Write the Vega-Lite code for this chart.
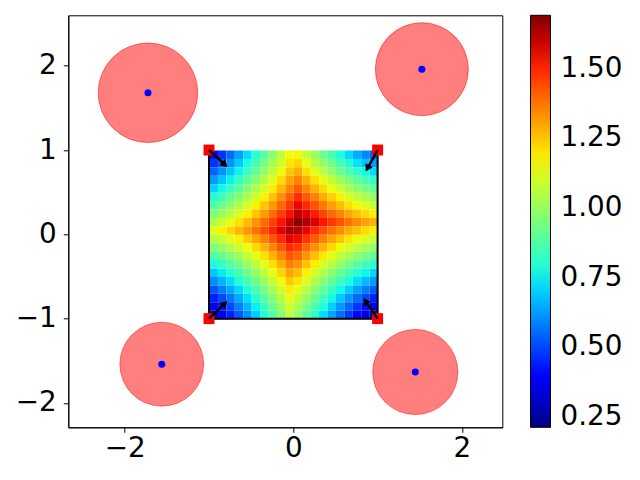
{
"$schema":"https://vega.github.io/schema/vega-lite/v6.json",
"autosize":{"type":"none"},
"width":434,"height":412,
"padding":{"left":68.3,"top":15.3,"right":137.7,"bottom":52.7},
"datasets":{
"grid":[
{"x":-0.95,"y":0.95,"v":0.397},{"x":-0.85,"y":0.95,"v":0.472},{"x":-0.75,"y":0.95,"v":0.551},{"x":-0.65,"y":0.95,"v":0.632},{"x":-0.55,"y":0.95,"v":0.716},{"x":-0.45,"y":0.95,"v":0.802},{"x":-0.35,"y":0.95,"v":0.889},{"x":-0.25,"y":0.95,"v":0.978},{"x":-0.15,"y":0.95,"v":1.069},{"x":-0.05,"y":0.95,"v":1.160},{"x":0.05,"y":0.95,"v":1.165},{"x":0.15,"y":0.95,"v":1.084},{"x":0.25,"y":0.95,"v":1.004},{"x":0.35,"y":0.95,"v":0.927},{"x":0.45,"y":0.95,"v":0.852},{"x":0.55,"y":0.95,"v":0.781},{"x":0.65,"y":0.95,"v":0.714},{"x":0.75,"y":0.95,"v":0.650},{"x":0.85,"y":0.95,"v":0.592},{"x":0.95,"y":0.95,"v":0.539},
{"x":-0.95,"y":0.85,"v":0.468},{"x":-0.85,"y":0.85,"v":0.539},{"x":-0.75,"y":0.85,"v":0.613},{"x":-0.65,"y":0.85,"v":0.691},{"x":-0.55,"y":0.85,"v":0.771},{"x":-0.45,"y":0.85,"v":0.854},{"x":-0.35,"y":0.85,"v":0.939},{"x":-0.25,"y":0.85,"v":1.025},{"x":-0.15,"y":0.85,"v":1.113},{"x":-0.05,"y":0.85,"v":1.202},{"x":0.05,"y":0.85,"v":1.223},{"x":0.15,"y":0.85,"v":1.145},{"x":0.25,"y":0.85,"v":1.068},{"x":0.35,"y":0.85,"v":0.994},{"x":0.45,"y":0.85,"v":0.923},{"x":0.55,"y":0.85,"v":0.855},{"x":0.65,"y":0.85,"v":0.791},{"x":0.75,"y":0.85,"v":0.731},{"x":0.85,"y":0.85,"v":0.676},{"x":0.95,"y":0.85,"v":0.627},
{"x":-0.95,"y":0.75,"v":0.543},{"x":-0.85,"y":0.75,"v":0.610},{"x":-0.75,"y":0.75,"v":0.680},{"x":-0.65,"y":0.75,"v":0.754},{"x":-0.55,"y":0.75,"v":0.831},{"x":-0.45,"y":0.75,"v":0.911},{"x":-0.35,"y":0.75,"v":0.993},{"x":-0.25,"y":0.75,"v":1.076},{"x":-0.15,"y":0.75,"v":1.162},{"x":-0.05,"y":0.75,"v":1.249},{"x":0.05,"y":0.75,"v":1.285},{"x":0.15,"y":0.75,"v":1.209},{"x":0.25,"y":0.75,"v":1.135},{"x":0.35,"y":0.75,"v":1.064},{"x":0.45,"y":0.75,"v":0.996},{"x":0.55,"y":0.75,"v":0.931},{"x":0.65,"y":0.75,"v":0.870},{"x":0.75,"y":0.75,"v":0.814},{"x":0.85,"y":0.75,"v":0.763},{"x":0.95,"y":0.75,"v":0.717},
{"x":-0.95,"y":0.65,"v":0.622},{"x":-0.85,"y":0.65,"v":0.684},{"x":-0.75,"y":0.65,"v":0.751},{"x":-0.65,"y":0.65,"v":0.821},{"x":-0.55,"y":0.65,"v":0.895},{"x":-0.45,"y":0.65,"v":0.972},{"x":-0.35,"y":0.65,"v":1.051},{"x":-0.25,"y":0.65,"v":1.132},{"x":-0.15,"y":0.65,"v":1.215},{"x":-0.05,"y":0.65,"v":1.299},{"x":0.05,"y":0.65,"v":1.350},{"x":0.15,"y":0.65,"v":1.277},{"x":0.25,"y":0.65,"v":1.205},{"x":0.35,"y":0.65,"v":1.137},{"x":0.45,"y":0.65,"v":1.072},{"x":0.55,"y":0.65,"v":1.010},{"x":0.65,"y":0.65,"v":0.953},{"x":0.75,"y":0.65,"v":0.899},{"x":0.85,"y":0.65,"v":0.851},{"x":0.95,"y":0.65,"v":0.808},
{"x":-0.95,"y":0.55,"v":0.703},{"x":-0.85,"y":0.55,"v":0.762},{"x":-0.75,"y":0.55,"v":0.825},{"x":-0.65,"y":0.55,"v":0.892},{"x":-0.55,"y":0.55,"v":0.963},{"x":-0.45,"y":0.55,"v":1.036},{"x":-0.35,"y":0.55,"v":1.112},{"x":-0.25,"y":0.55,"v":1.191},{"x":-0.15,"y":0.55,"v":1.271},{"x":-0.05,"y":0.55,"v":1.353},{"x":0.05,"y":0.55,"v":1.418},{"x":0.15,"y":0.55,"v":1.347},{"x":0.25,"y":0.55,"v":1.278},{"x":0.35,"y":0.55,"v":1.213},{"x":0.45,"y":0.55,"v":1.150},{"x":0.55,"y":0.55,"v":1.092},{"x":0.65,"y":0.55,"v":1.037},{"x":0.75,"y":0.55,"v":0.986},{"x":0.85,"y":0.55,"v":0.940},{"x":0.95,"y":0.55,"v":0.900},
{"x":-0.95,"y":0.45,"v":0.786},{"x":-0.85,"y":0.45,"v":0.842},{"x":-0.75,"y":0.45,"v":0.902},{"x":-0.65,"y":0.45,"v":0.966},{"x":-0.55,"y":0.45,"v":1.034},{"x":-0.45,"y":0.45,"v":1.104},{"x":-0.35,"y":0.45,"v":1.177},{"x":-0.25,"y":0.45,"v":1.253},{"x":-0.15,"y":0.45,"v":1.331},{"x":-0.05,"y":0.45,"v":1.411},{"x":0.05,"y":0.45,"v":1.488},{"x":0.15,"y":0.45,"v":1.420},{"x":0.25,"y":0.45,"v":1.354},{"x":0.35,"y":0.45,"v":1.291},{"x":0.45,"y":0.45,"v":1.231},{"x":0.55,"y":0.45,"v":1.175},{"x":0.65,"y":0.45,"v":1.122},{"x":0.75,"y":0.45,"v":1.074},{"x":0.85,"y":0.45,"v":1.031},{"x":0.95,"y":0.45,"v":0.993},
{"x":-0.95,"y":0.35,"v":0.872},{"x":-0.85,"y":0.35,"v":0.925},{"x":-0.75,"y":0.35,"v":0.982},{"x":-0.65,"y":0.35,"v":1.043},{"x":-0.55,"y":0.35,"v":1.107},{"x":-0.45,"y":0.35,"v":1.175},{"x":-0.35,"y":0.35,"v":1.246},{"x":-0.25,"y":0.35,"v":1.319},{"x":-0.15,"y":0.35,"v":1.394},{"x":-0.05,"y":0.35,"v":1.471},{"x":0.05,"y":0.35,"v":1.551},{"x":0.15,"y":0.35,"v":1.494},{"x":0.25,"y":0.35,"v":1.431},{"x":0.35,"y":0.35,"v":1.370},{"x":0.45,"y":0.35,"v":1.313},{"x":0.55,"y":0.35,"v":1.259},{"x":0.65,"y":0.35,"v":1.210},{"x":0.75,"y":0.35,"v":1.164},{"x":0.85,"y":0.35,"v":1.123},{"x":0.95,"y":0.35,"v":1.087},
{"x":-0.95,"y":0.25,"v":0.959},{"x":-0.85,"y":0.25,"v":1.009},{"x":-0.75,"y":0.25,"v":1.063},{"x":-0.65,"y":0.25,"v":1.122},{"x":-0.55,"y":0.25,"v":1.183},{"x":-0.45,"y":0.25,"v":1.248},{"x":-0.35,"y":0.25,"v":1.316},{"x":-0.25,"y":0.25,"v":1.387},{"x":-0.15,"y":0.25,"v":1.460},{"x":-0.05,"y":0.25,"v":1.535},{"x":0.05,"y":0.25,"v":1.612},{"x":0.15,"y":0.25,"v":1.572},{"x":0.25,"y":0.25,"v":1.510},{"x":0.35,"y":0.25,"v":1.452},{"x":0.45,"y":0.25,"v":1.397},{"x":0.55,"y":0.25,"v":1.346},{"x":0.65,"y":0.25,"v":1.298},{"x":0.75,"y":0.25,"v":1.255},{"x":0.85,"y":0.25,"v":1.216},{"x":0.95,"y":0.25,"v":1.181},
{"x":-0.95,"y":0.15,"v":1.048},{"x":-0.85,"y":0.15,"v":1.095},{"x":-0.75,"y":0.15,"v":1.147},{"x":-0.65,"y":0.15,"v":1.203},{"x":-0.55,"y":0.15,"v":1.262},{"x":-0.45,"y":0.15,"v":1.324},{"x":-0.35,"y":0.15,"v":1.390},{"x":-0.25,"y":0.15,"v":1.458},{"x":-0.15,"y":0.15,"v":1.528},{"x":-0.05,"y":0.15,"v":1.601},{"x":0.05,"y":0.15,"v":1.676},{"x":0.15,"y":0.15,"v":1.635},{"x":0.25,"y":0.15,"v":1.578},{"x":0.35,"y":0.15,"v":1.523},{"x":0.45,"y":0.15,"v":1.473},{"x":0.55,"y":0.15,"v":1.426},{"x":0.65,"y":0.15,"v":1.383},{"x":0.75,"y":0.15,"v":1.344},{"x":0.85,"y":0.15,"v":1.309},{"x":0.95,"y":0.15,"v":1.276},
{"x":-0.95,"y":0.05,"v":1.137},{"x":-0.85,"y":0.05,"v":1.181},{"x":-0.75,"y":0.05,"v":1.224},{"x":-0.65,"y":0.05,"v":1.272},{"x":-0.55,"y":0.05,"v":1.324},{"x":-0.45,"y":0.05,"v":1.379},{"x":-0.35,"y":0.05,"v":1.438},{"x":-0.25,"y":0.05,"v":1.500},{"x":-0.15,"y":0.05,"v":1.565},{"x":-0.05,"y":0.05,"v":1.633},{"x":0.05,"y":0.05,"v":1.617},{"x":0.15,"y":0.05,"v":1.555},{"x":0.25,"y":0.05,"v":1.495},{"x":0.35,"y":0.05,"v":1.439},{"x":0.45,"y":0.05,"v":1.386},{"x":0.55,"y":0.05,"v":1.337},{"x":0.65,"y":0.05,"v":1.292},{"x":0.75,"y":0.05,"v":1.252},{"x":0.85,"y":0.05,"v":1.216},{"x":0.95,"y":0.05,"v":1.185},
{"x":-0.95,"y":-0.05,"v":1.050},{"x":-0.85,"y":-0.05,"v":1.090},{"x":-0.75,"y":-0.05,"v":1.136},{"x":-0.65,"y":-0.05,"v":1.186},{"x":-0.55,"y":-0.05,"v":1.240},{"x":-0.45,"y":-0.05,"v":1.298},{"x":-0.35,"y":-0.05,"v":1.359},{"x":-0.25,"y":-0.05,"v":1.424},{"x":-0.15,"y":-0.05,"v":1.491},{"x":-0.05,"y":-0.05,"v":1.561},{"x":0.05,"y":-0.05,"v":1.541},{"x":0.15,"y":-0.05,"v":1.477},{"x":0.25,"y":-0.05,"v":1.415},{"x":0.35,"y":-0.05,"v":1.356},{"x":0.45,"y":-0.05,"v":1.301},{"x":0.55,"y":-0.05,"v":1.250},{"x":0.65,"y":-0.05,"v":1.202},{"x":0.75,"y":-0.05,"v":1.160},{"x":0.85,"y":-0.05,"v":1.122},{"x":0.95,"y":-0.05,"v":1.089},
{"x":-0.95,"y":-0.15,"v":0.958},{"x":-0.85,"y":-0.15,"v":1.001},{"x":-0.75,"y":-0.15,"v":1.049},{"x":-0.65,"y":-0.15,"v":1.101},{"x":-0.55,"y":-0.15,"v":1.158},{"x":-0.45,"y":-0.15,"v":1.219},{"x":-0.35,"y":-0.15,"v":1.283},{"x":-0.25,"y":-0.15,"v":1.350},{"x":-0.15,"y":-0.15,"v":1.420},{"x":-0.05,"y":-0.15,"v":1.492},{"x":0.05,"y":-0.15,"v":1.467},{"x":0.15,"y":-0.15,"v":1.400},{"x":0.25,"y":-0.15,"v":1.336},{"x":0.35,"y":-0.15,"v":1.275},{"x":0.45,"y":-0.15,"v":1.217},{"x":0.55,"y":-0.15,"v":1.163},{"x":0.65,"y":-0.15,"v":1.114},{"x":0.75,"y":-0.15,"v":1.069},{"x":0.85,"y":-0.15,"v":1.029},{"x":0.95,"y":-0.15,"v":0.994},
{"x":-0.95,"y":-0.25,"v":0.867},{"x":-0.85,"y":-0.25,"v":0.912},{"x":-0.75,"y":-0.25,"v":0.963},{"x":-0.65,"y":-0.25,"v":1.018},{"x":-0.55,"y":-0.25,"v":1.078},{"x":-0.45,"y":-0.25,"v":1.142},{"x":-0.35,"y":-0.25,"v":1.208},{"x":-0.25,"y":-0.25,"v":1.278},{"x":-0.15,"y":-0.25,"v":1.351},{"x":-0.05,"y":-0.25,"v":1.426},{"x":0.05,"y":-0.25,"v":1.396},{"x":0.15,"y":-0.25,"v":1.326},{"x":0.25,"y":-0.25,"v":1.259},{"x":0.35,"y":-0.25,"v":1.195},{"x":0.45,"y":-0.25,"v":1.135},{"x":0.55,"y":-0.25,"v":1.078},{"x":0.65,"y":-0.25,"v":1.026},{"x":0.75,"y":-0.25,"v":0.979},{"x":0.85,"y":-0.25,"v":0.936},{"x":0.95,"y":-0.25,"v":0.900},
{"x":-0.95,"y":-0.35,"v":0.777},{"x":-0.85,"y":-0.35,"v":0.826},{"x":-0.75,"y":-0.35,"v":0.879},{"x":-0.65,"y":-0.35,"v":0.938},{"x":-0.55,"y":-0.35,"v":1.001},{"x":-0.45,"y":-0.35,"v":1.067},{"x":-0.35,"y":-0.35,"v":1.137},{"x":-0.25,"y":-0.35,"v":1.210},{"x":-0.15,"y":-0.35,"v":1.285},{"x":-0.05,"y":-0.35,"v":1.362},{"x":0.05,"y":-0.35,"v":1.327},{"x":0.15,"y":-0.35,"v":1.254},{"x":0.25,"y":-0.35,"v":1.185},{"x":0.35,"y":-0.35,"v":1.118},{"x":0.45,"y":-0.35,"v":1.055},{"x":0.55,"y":-0.35,"v":0.996},{"x":0.65,"y":-0.35,"v":0.940},{"x":0.75,"y":-0.35,"v":0.890},{"x":0.85,"y":-0.35,"v":0.845},{"x":0.95,"y":-0.35,"v":0.806},
{"x":-0.95,"y":-0.45,"v":0.689},{"x":-0.85,"y":-0.45,"v":0.741},{"x":-0.75,"y":-0.45,"v":0.798},{"x":-0.65,"y":-0.45,"v":0.860},{"x":-0.55,"y":-0.45,"v":0.926},{"x":-0.45,"y":-0.45,"v":0.995},{"x":-0.35,"y":-0.45,"v":1.068},{"x":-0.25,"y":-0.45,"v":1.144},{"x":-0.15,"y":-0.45,"v":1.222},{"x":-0.05,"y":-0.45,"v":1.302},{"x":0.05,"y":-0.45,"v":1.261},{"x":0.15,"y":-0.45,"v":1.186},{"x":0.25,"y":-0.45,"v":1.113},{"x":0.35,"y":-0.45,"v":1.043},{"x":0.45,"y":-0.45,"v":0.977},{"x":0.55,"y":-0.45,"v":0.915},{"x":0.65,"y":-0.45,"v":0.856},{"x":0.75,"y":-0.45,"v":0.803},{"x":0.85,"y":-0.45,"v":0.755},{"x":0.95,"y":-0.45,"v":0.713},
{"x":-0.95,"y":-0.55,"v":0.603},{"x":-0.85,"y":-0.55,"v":0.658},{"x":-0.75,"y":-0.55,"v":0.719},{"x":-0.65,"y":-0.55,"v":0.784},{"x":-0.55,"y":-0.55,"v":0.854},{"x":-0.45,"y":-0.55,"v":0.927},{"x":-0.35,"y":-0.55,"v":1.003},{"x":-0.25,"y":-0.55,"v":1.082},{"x":-0.15,"y":-0.55,"v":1.162},{"x":-0.05,"y":-0.55,"v":1.245},{"x":0.05,"y":-0.55,"v":1.198},{"x":0.15,"y":-0.55,"v":1.120},{"x":0.25,"y":-0.55,"v":1.044},{"x":0.35,"y":-0.55,"v":0.972},{"x":0.45,"y":-0.55,"v":0.902},{"x":0.55,"y":-0.55,"v":0.836},{"x":0.65,"y":-0.55,"v":0.775},{"x":0.75,"y":-0.55,"v":0.718},{"x":0.85,"y":-0.55,"v":0.667},{"x":0.95,"y":-0.55,"v":0.622},
{"x":-0.95,"y":-0.65,"v":0.519},{"x":-0.85,"y":-0.65,"v":0.578},{"x":-0.75,"y":-0.65,"v":0.643},{"x":-0.65,"y":-0.65,"v":0.713},{"x":-0.55,"y":-0.65,"v":0.786},{"x":-0.45,"y":-0.65,"v":0.862},{"x":-0.35,"y":-0.65,"v":0.942},{"x":-0.25,"y":-0.65,"v":1.023},{"x":-0.15,"y":-0.65,"v":1.107},{"x":-0.05,"y":-0.65,"v":1.192},{"x":0.05,"y":-0.65,"v":1.138},{"x":0.15,"y":-0.65,"v":1.057},{"x":0.25,"y":-0.65,"v":0.979},{"x":0.35,"y":-0.65,"v":0.903},{"x":0.45,"y":-0.65,"v":0.830},{"x":0.55,"y":-0.65,"v":0.761},{"x":0.65,"y":-0.65,"v":0.696},{"x":0.75,"y":-0.65,"v":0.635},{"x":0.85,"y":-0.65,"v":0.580},{"x":0.95,"y":-0.65,"v":0.532},
{"x":-0.95,"y":-0.75,"v":0.438},{"x":-0.85,"y":-0.75,"v":0.502},{"x":-0.75,"y":-0.75,"v":0.571},{"x":-0.65,"y":-0.75,"v":0.645},{"x":-0.55,"y":-0.75,"v":0.722},{"x":-0.45,"y":-0.75,"v":0.802},{"x":-0.35,"y":-0.75,"v":0.885},{"x":-0.25,"y":-0.75,"v":0.969},{"x":-0.15,"y":-0.75,"v":1.056},{"x":-0.05,"y":-0.75,"v":1.144},{"x":0.05,"y":-0.75,"v":1.083},{"x":0.15,"y":-0.75,"v":0.999},{"x":0.25,"y":-0.75,"v":0.918},{"x":0.35,"y":-0.75,"v":0.838},{"x":0.45,"y":-0.75,"v":0.762},{"x":0.55,"y":-0.75,"v":0.689},{"x":0.65,"y":-0.75,"v":0.620},{"x":0.75,"y":-0.75,"v":0.555},{"x":0.85,"y":-0.75,"v":0.496},{"x":0.95,"y":-0.75,"v":0.443},
{"x":-0.95,"y":-0.85,"v":0.361},{"x":-0.85,"y":-0.85,"v":0.430},{"x":-0.75,"y":-0.85,"v":0.504},{"x":-0.65,"y":-0.85,"v":0.582},{"x":-0.55,"y":-0.85,"v":0.663},{"x":-0.45,"y":-0.85,"v":0.747},{"x":-0.35,"y":-0.85,"v":0.832},{"x":-0.25,"y":-0.85,"v":0.920},{"x":-0.15,"y":-0.85,"v":1.009},{"x":-0.05,"y":-0.85,"v":1.100},{"x":0.05,"y":-0.85,"v":1.032},{"x":0.15,"y":-0.85,"v":0.945},{"x":0.25,"y":-0.85,"v":0.860},{"x":0.35,"y":-0.85,"v":0.778},{"x":0.45,"y":-0.85,"v":0.698},{"x":0.55,"y":-0.85,"v":0.621},{"x":0.65,"y":-0.85,"v":0.547},{"x":0.75,"y":-0.85,"v":0.478},{"x":0.85,"y":-0.85,"v":0.415},{"x":0.95,"y":-0.85,"v":0.357},
{"x":-0.95,"y":-0.95,"v":0.288},{"x":-0.85,"y":-0.95,"v":0.363},{"x":-0.75,"y":-0.95,"v":0.442},{"x":-0.65,"y":-0.95,"v":0.524},{"x":-0.55,"y":-0.95,"v":0.609},{"x":-0.45,"y":-0.95,"v":0.697},{"x":-0.35,"y":-0.95,"v":0.786},{"x":-0.25,"y":-0.95,"v":0.876},{"x":-0.15,"y":-0.95,"v":0.968},{"x":-0.05,"y":-0.95,"v":1.060},{"x":0.05,"y":-0.95,"v":0.985},{"x":0.15,"y":-0.95,"v":0.896},{"x":0.25,"y":-0.95,"v":0.808},{"x":0.35,"y":-0.95,"v":0.722},{"x":0.45,"y":-0.95,"v":0.639},{"x":0.55,"y":-0.95,"v":0.557},{"x":0.65,"y":-0.95,"v":0.480},{"x":0.75,"y":-0.95,"v":0.406},{"x":0.85,"y":-0.95,"v":0.337},{"x":0.95,"y":-0.95,"v":0.275}
],
"edges":[{"x":-1,"y":-1,"x2":-1,"y2":1},{"x":-1,"y":-1,"x2":1,"y2":-1},{"x":1,"y":-1,"x2":1,"y2":1}],
"obstacles":[{"cx":-1.724,"cy":1.679,"r":0.666},{"cx":1.525,"cy":1.959,"r":0.622},{"cx":-1.56,"cy":-1.541,"r":0.561},{"cx":1.447,"cy":-1.633,"r":0.57}],
"arrows":[{"x":-1,"y":1,"hx":-0.823,"hy":0.837,"angle":132.6},{"x":1,"y":1,"hx":0.886,"hy":0.795,"angle":209.2},{"x":-1,"y":-1,"hx":-0.823,"hy":-0.83,"angle":46},{"x":1,"y":-1,"hx":0.864,"hy":-0.803,"angle":325.3}]
},
"layer":[
{"data":{"name":"grid"},
 "mark":{"type":"rect","binSpacing":0},
 "encoding":{
  "x":{"field":"x","type":"quantitative","bin":{"extent":[-1,1],"step":0.1},"scale":{"domain":[-2.669,2.479],"nice":false,"zero":false},"axis":{"values":[-2,0,2],"title":null,"format":"d"}},
  "y":{"field":"y","type":"quantitative","bin":{"extent":[-1,1],"step":0.1},"scale":{"domain":[-2.289,2.598],"nice":false,"zero":false},"axis":{"values":[-2,-1,0,1,2],"title":null,"format":"d"}},
  "color":{"field":"v","type":"quantitative","scale":{"type":"linear","domain":[0.213,0.3756,0.3978,0.7155,0.7303,0.7673,1.1589,1.1737,1.1885,1.5284,1.558,1.691],"range":["#00007f","#0000ff","#0000ff","#00dbff","#00e5f7","#14ffe2","#eeff08","#f7f500","#ffec00","#ff1300","#e80000","#7f0000"],"interpolate":"rgb"},
   "legend":{"type":"gradient","orient":"none","legendX":462.2,"legendY":0,"direction":"vertical","gradientLength":412,"gradientThickness":20,"title":null,"values":[0.25,0.5,0.75,1,1.25,1.5],"format":".2f","labelFontSize":27.8,"labelOffset":10,"labelOverlap":false,"gradientStrokeColor":"black","gradientStrokeWidth":1,"labelColor":"black","padding":0}}
 }},
{"data":{"name":"edges"},
 "mark":{"type":"rule","color":"black","strokeWidth":2},
 "encoding":{
  "x":{"field":"x","type":"quantitative","axis":{"values":[-2,0,2],"title":null,"format":"d"}},
  "y":{"field":"y","type":"quantitative","axis":{"values":[-2,-1,0,1,2],"title":null,"format":"d"}},
  "x2":{"field":"x2"},"y2":{"field":"y2"}}},
{"data":{"name":"obstacles"},
 "mark":{"type":"circle","fill":"red","fillOpacity":0.5,"stroke":"red","strokeOpacity":0.5,"strokeWidth":1,"opacity":1},
 "encoding":{
  "x":{"field":"cx","type":"quantitative","axis":{"values":[-2,0,2],"title":null,"format":"d"}},
  "y":{"field":"cy","type":"quantitative","axis":{"values":[-2,-1,0,1,2],"title":null,"format":"d"}},
  "size":{"field":"r","type":"quantitative","scale":{"type":"pow","exponent":2,"domain":[0,1],"range":[0,22330]},"legend":null}}},
{"data":{"name":"obstacles"},
 "mark":{"type":"circle","color":"blue","size":50,"opacity":1},
 "encoding":{
  "x":{"field":"cx","type":"quantitative","axis":{"values":[-2,0,2],"title":null,"format":"d"}},
  "y":{"field":"cy","type":"quantitative","axis":{"values":[-2,-1,0,1,2],"title":null,"format":"d"}}}},
{"data":{"name":"arrows"},
 "mark":{"type":"square","color":"red","size":120,"opacity":1,"filled":true},
 "encoding":{
  "x":{"field":"x","type":"quantitative","axis":{"values":[-2,0,2],"title":null,"format":"d"}},
  "y":{"field":"y","type":"quantitative","axis":{"values":[-2,-1,0,1,2],"title":null,"format":"d"}}}},
{"data":{"name":"arrows"},
 "mark":{"type":"rule","color":"black","strokeWidth":2.5},
 "encoding":{
  "x":{"field":"x","type":"quantitative","axis":{"values":[-2,0,2],"title":null,"format":"d"}},
  "y":{"field":"y","type":"quantitative","axis":{"values":[-2,-1,0,1,2],"title":null,"format":"d"}},
  "x2":{"field":"hx"},"y2":{"field":"hy"}}},
{"data":{"name":"arrows"},
 "mark":{"type":"point","shape":"triangle","filled":true,"color":"black","size":70,"opacity":1},
 "encoding":{
  "x":{"field":"hx","type":"quantitative","axis":{"values":[-2,0,2],"title":null,"format":"d"}},
  "y":{"field":"hy","type":"quantitative","axis":{"values":[-2,-1,0,1,2],"title":null,"format":"d"}},
  "angle":{"field":"angle","type":"quantitative","scale":{"domain":[0,360],"range":[0,360]}}}}
],
"config":{
 "font":"DejaVu Sans",
 "view":{"stroke":"black","strokeWidth":1},
 "axis":{"grid":false,"labelFontSize":27.8,"labelColor":"black","domainColor":"black","domainWidth":1,"tickColor":"black","tickSize":5,"tickWidth":1,"labelFont":"DejaVu Sans"},
 "axisX":{"labelPadding":2},
 "axisY":{"labelPadding":7},
 "legend":{"labelFont":"DejaVu Sans"}
}
}
